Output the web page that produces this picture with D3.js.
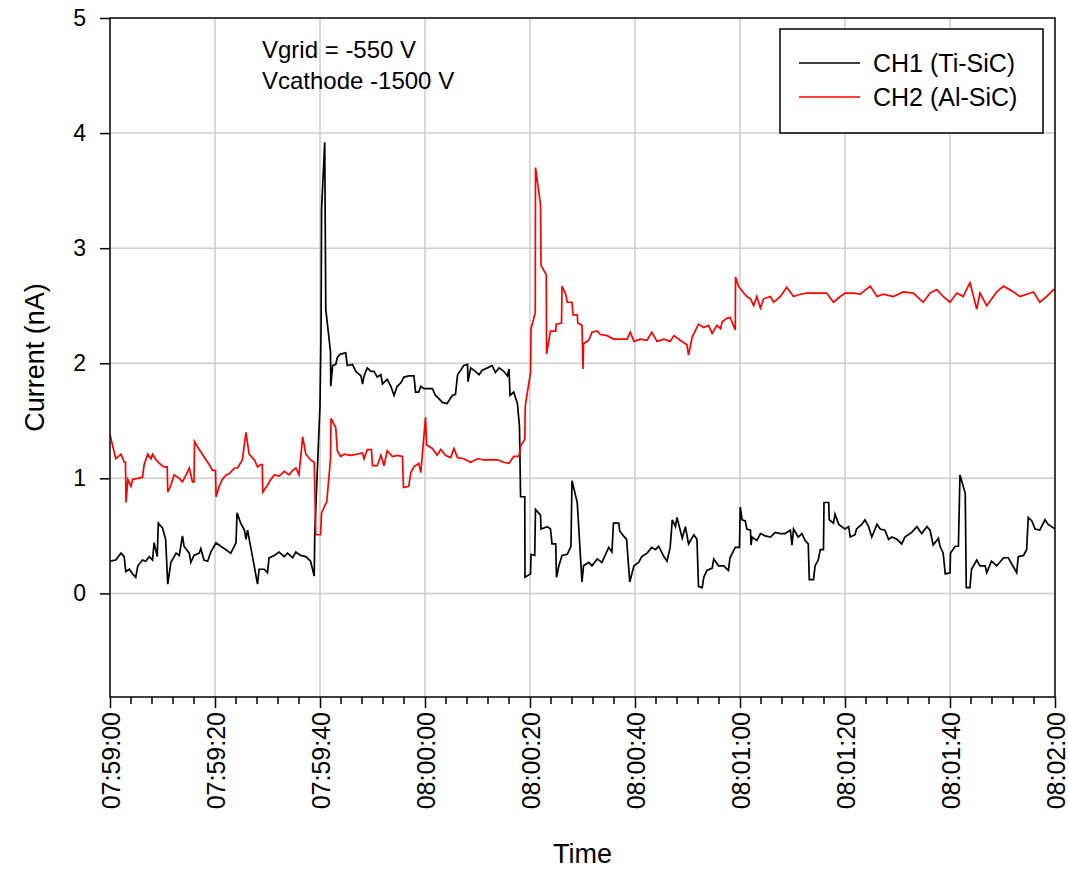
<!DOCTYPE html>
<html>
<head>
<meta charset="utf-8">
<script src="https://cdn.jsdelivr.net/npm/d3@7"></script>
<style>
  body { margin: 0; background: #fff; }
  svg text { font-family: "Liberation Sans", Arial, sans-serif; fill: #000; }
</style>
</head>
<body>
<div id="chart"></div>
<script>
// seconds after 07:59:00, current in nA
const ch1Points = [[0,0.28],[1.1,0.29],[2.1,0.35],[2.7,0.32],[3.0,0.19],[3.7,0.21],[4.3,0.17],[4.9,0.14],[5.3,0.24],[6.2,0.29],[6.8,0.28],[7.5,0.32],[8.1,0.29],[8.4,0.44],[9.0,0.32],[9.2,0.61],[10.0,0.57],[10.6,0.47],[11.0,0.08],[11.6,0.27],[12.6,0.35],[13.2,0.33],[13.8,0.5],[14.1,0.41],[15.1,0.35],[15.4,0.27],[16.0,0.33],[17.0,0.35],[17.3,0.39],[17.9,0.29],[18.6,0.28],[19.2,0.36],[20.2,0.44],[21.1,0.41],[22.1,0.38],[23.0,0.35],[24.0,0.44],[24.2,0.70],[24.9,0.61],[25.6,0.55],[25.9,0.47],[26.2,0.55],[27.5,0.23],[28.1,0.08],[28.4,0.21],[29.4,0.21],[30.0,0.18],[30.3,0.31],[31.3,0.33],[32.2,0.36],[33.2,0.32],[33.8,0.35],[34.8,0.31],[35.4,0.36],[36.3,0.33],[37.3,0.32],[38.2,0.28],[38.9,0.15],[39.0,0.51],[39.5,1.08],[40.0,1.63],[40.2,2.3],[40.3,3.34],[40.9,3.92],[41.1,2.47],[42.0,2.10],[42.05,1.8],[42.4,1.98],[43.0,1.99],[43.3,2.05],[43.9,2.08],[44.9,2.09],[45.2,1.98],[46.2,1.99],[46.8,1.93],[47.8,1.89],[48.1,1.82],[48.4,1.89],[49.0,1.96],[49.7,1.93],[50.3,1.93],[50.9,1.88],[51.6,1.9],[51.9,1.82],[52.8,1.86],[53.5,1.8],[54.1,1.72],[54.7,1.8],[55.4,1.83],[56.0,1.88],[56.9,1.89],[57.9,1.89],[58.2,1.75],[58.8,1.75],[59.2,1.8],[59.8,1.78],[61.4,1.78],[62.0,1.72],[62.7,1.69],[63.3,1.66],[64.2,1.65],[65.2,1.72],[65.8,1.73],[66.2,1.9],[67.4,1.98],[68.1,1.99],[68.2,1.84],[68.7,1.96],[69.6,1.93],[70.3,1.9],[70.9,1.94],[71.9,1.96],[72.8,1.98],[73.4,1.92],[74.1,1.96],[75.0,1.93],[75.7,1.89],[76.0,1.95],[76.2,1.72],[76.9,1.75],[77.6,1.65],[78.0,1.45],[78.2,0.84],[79.0,0.84],[79.05,0.14],[80.1,0.17],[80.2,0.34],[80.9,0.33],[81.05,0.73],[82.0,0.68],[82.1,0.56],[83.3,0.58],[83.9,0.56],[84.2,0.43],[84.9,0.43],[85.05,0.14],[85.5,0.24],[86.1,0.33],[87.1,0.34],[87.8,0.41],[88.0,0.98],[89.0,0.79],[89.9,0.10],[90.2,0.24],[91.2,0.27],[91.8,0.24],[92.8,0.3],[93.7,0.27],[95.0,0.4],[95.6,0.36],[95.9,0.61],[96.9,0.61],[97.1,0.54],[97.8,0.5],[98.4,0.47],[99.0,0.10],[99.8,0.24],[100.7,0.27],[101.3,0.32],[102.3,0.35],[103.2,0.4],[103.9,0.38],[104.5,0.41],[105.5,0.32],[106.1,0.28],[106.7,0.4],[107.1,0.64],[107.7,0.58],[108.0,0.66],[109.0,0.48],[109.6,0.58],[110.2,0.43],[111.2,0.51],[111.8,0.47],[112.1,0.06],[112.8,0.05],[113.1,0.14],[113.7,0.2],[114.7,0.22],[115.0,0.3],[115.9,0.24],[116.9,0.24],[117.8,0.2],[118.1,0.31],[119.1,0.4],[119.9,0.4],[120.05,0.75],[120.4,0.64],[121.0,0.63],[121.3,0.56],[122.0,0.55],[122.1,0.42],[122.3,0.49],[123.2,0.46],[123.9,0.52],[124.8,0.5],[125.8,0.49],[126.7,0.53],[127.7,0.52],[128.6,0.52],[129.6,0.55],[129.9,0.42],[130.2,0.56],[131.1,0.49],[131.8,0.52],[132.4,0.46],[133.0,0.43],[133.2,0.12],[134.0,0.12],[134.3,0.24],[134.9,0.29],[135.3,0.38],[135.9,0.38],[136.0,0.79],[136.9,0.79],[137.0,0.64],[137.8,0.61],[138.1,0.69],[138.8,0.6],[140.0,0.56],[140.7,0.58],[141.0,0.49],[141.9,0.51],[142.2,0.56],[143.2,0.6],[143.8,0.64],[144.5,0.58],[145.1,0.49],[146.1,0.6],[146.7,0.56],[147.6,0.55],[148.3,0.47],[148.9,0.49],[149.9,0.47],[150.8,0.43],[151.4,0.49],[152.7,0.53],[153.7,0.58],[154.6,0.52],[155.6,0.58],[156.2,0.55],[156.8,0.42],[157.8,0.48],[158.1,0.41],[158.7,0.35],[159.1,0.17],[160.0,0.18],[160.1,0.35],[161.0,0.41],[161.6,0.41],[161.9,1.03],[162.9,0.87],[163.1,0.05],[163.8,0.05],[164.1,0.21],[165.1,0.29],[165.7,0.24],[166.7,0.24],[167.0,0.18],[167.9,0.28],[168.9,0.24],[170.2,0.31],[171.1,0.31],[172.1,0.23],[172.7,0.18],[173.0,0.32],[174.0,0.33],[174.6,0.38],[174.9,0.66],[175.6,0.63],[176.2,0.56],[177.1,0.55],[178.1,0.64],[178.7,0.6],[179.7,0.57],[180,0.56]];

const ch2Points = [[0,1.38],[1.1,1.17],[2.1,1.21],[2.7,1.14],[2.95,1.14],[3.05,0.79],[3.4,0.99],[4.0,0.93],[4.3,0.99],[5.3,1.0],[6.2,1.01],[6.5,1.12],[7.2,1.21],[7.8,1.17],[8.1,1.21],[8.8,1.16],[9.4,1.13],[10.3,1.1],[10.9,1.1],[11.0,0.88],[11.6,0.94],[12.2,1.03],[13.2,1.0],[13.8,0.97],[14.5,1.03],[15.1,1.09],[15.7,0.97],[16.0,0.97],[16.1,1.32],[17.0,1.25],[17.6,1.21],[18.3,1.16],[18.9,1.12],[19.5,1.07],[20.1,1.07],[20.2,0.84],[20.8,0.93],[21.4,0.99],[22.1,1.03],[22.7,1.04],[23.7,1.09],[24.3,1.09],[25.2,1.16],[25.9,1.40],[26.5,1.21],[27.5,1.16],[28.1,1.1],[28.7,1.12],[29.0,1.12],[29.1,0.88],[30.0,0.94],[30.6,0.99],[31.3,1.03],[32.2,1.02],[33.2,1.06],[34.1,1.03],[34.8,1.07],[35.4,1.09],[36.0,1.03],[36.7,1.36],[37.3,1.21],[38.2,1.16],[38.9,1.14],[39.2,0.51],[40.1,0.51],[40.3,0.70],[41.3,0.80],[42.0,1.17],[42.1,1.52],[43.0,1.44],[43.3,1.24],[43.9,1.19],[44.6,1.21],[45.9,1.2],[47.1,1.21],[48.1,1.22],[48.4,1.17],[49.0,1.25],[49.8,1.25],[50.0,1.11],[50.9,1.11],[51.6,1.2],[52.2,1.11],[52.8,1.24],[53.8,1.19],[54.7,1.2],[55.7,1.19],[55.9,0.92],[56.9,0.93],[57.3,1.05],[57.9,1.1],[58.8,1.13],[59.2,1.05],[60.1,1.53],[60.3,1.29],[61.4,1.26],[62.3,1.2],[63.0,1.25],[63.9,1.2],[64.9,1.18],[65.5,1.26],[66.2,1.18],[67.4,1.17],[68.7,1.14],[70.0,1.17],[71.2,1.16],[72.5,1.16],[73.8,1.16],[75.0,1.14],[76.0,1.13],[76.9,1.19],[77.9,1.19],[78.2,1.28],[79.0,1.34],[79.1,1.63],[80.1,1.92],[80.2,2.30],[81.0,2.44],[81.05,3.70],[82.0,3.38],[82.1,2.85],[83.1,2.77],[83.15,2.08],[83.9,2.28],[84.9,2.28],[85.0,2.34],[86.0,2.35],[86.1,2.67],[86.8,2.6],[87.1,2.53],[88.0,2.53],[88.2,2.42],[89.0,2.42],[89.1,2.35],[89.9,2.33],[90.1,1.95],[90.2,2.17],[91.2,2.2],[91.8,2.27],[92.8,2.28],[93.4,2.25],[94.7,2.24],[95.9,2.21],[97.2,2.21],[98.5,2.21],[99.1,2.27],[99.8,2.19],[101.0,2.21],[102.3,2.2],[103.2,2.27],[104.2,2.19],[105.5,2.21],[106.7,2.19],[107.4,2.24],[108.6,2.2],[109.9,2.16],[110.2,2.07],[110.9,2.23],[112.1,2.34],[113.1,2.31],[114.0,2.33],[114.7,2.26],[115.6,2.33],[116.3,2.3],[116.6,2.36],[117.5,2.39],[118.1,2.4],[119.1,2.29],[119.15,2.75],[119.7,2.67],[120.7,2.61],[121.3,2.58],[122.0,2.56],[122.6,2.5],[123.2,2.58],[123.9,2.48],[124.5,2.56],[125.8,2.58],[126.4,2.53],[127.7,2.58],[128.9,2.66],[130.2,2.58],[131.5,2.6],[132.7,2.61],[134.6,2.61],[136.5,2.61],[137.8,2.53],[139.1,2.58],[140.0,2.61],[141.6,2.61],[142.9,2.6],[144.8,2.67],[146.1,2.58],[147.3,2.6],[149.2,2.58],[151.1,2.62],[153.0,2.61],[154.9,2.53],[156.2,2.61],[157.5,2.64],[158.7,2.58],[160.0,2.53],[161.3,2.61],[162.5,2.58],[163.8,2.7],[165.1,2.47],[165.7,2.61],[167.0,2.5],[168.9,2.62],[170.2,2.67],[172.1,2.62],[173.3,2.58],[175.9,2.62],[177.1,2.53],[178.4,2.58],[179.7,2.64],[180,2.63]];

const seriesNames = ["CH1 (Ti-SiC)", "CH2 (Al-SiC)"];
const seriesColors = ["#000000", "#ff0000"];
const yTicks = [0, 1, 2, 3, 4, 5];
const notes = ["Vgrid = -550 V", "Vcathode -1500 V"];

const width = 1068, height = 870;
const margin = {top: 18, right: 13, bottom: 173, left: 110};
const t0 = new Date(2000, 0, 1, 7, 59, 0);
const toDate = s => new Date(t0.getTime() + s * 1000);

const svg = d3.select("#chart").append("svg")
  .attr("width", width)
  .attr("height", height);

const x = d3.scaleTime()
  .domain([t0, toDate(180)])
  .range([margin.left, width - margin.right]);

const y = d3.scaleLinear()
  .domain([-0.9, 5])
  .range([height - margin.bottom, margin.top]);

const plotW = width - margin.left - margin.right;
const plotH = height - margin.top - margin.bottom;

svg.append("clipPath").attr("id", "plot-clip")
  .append("rect")
  .attr("x", margin.left).attr("y", margin.top)
  .attr("width", plotW).attr("height", plotH);

// grid
const majorTicks = x.ticks(d3.timeSecond.every(20));
svg.append("g")
  .selectAll("line")
  .data(majorTicks.slice(1, -1))
  .join("line")
  .attr("x1", d => x(d)).attr("x2", d => x(d))
  .attr("y1", margin.top).attr("y2", height - margin.bottom)
  .attr("stroke", "#cccccc").attr("stroke-width", 1.5);

svg.append("g")
  .selectAll("line")
  .data(yTicks.slice(0, -1))
  .join("line")
  .attr("x1", margin.left).attr("x2", width - margin.right)
  .attr("y1", d => y(d)).attr("y2", d => y(d))
  .attr("stroke", "#cccccc").attr("stroke-width", 1.5);

// data lines
const line = d3.line()
  .x(d => x(toDate(d[0])))
  .y(d => y(d[1]));

[ch1Points, ch2Points].forEach((pts, i) => {
  svg.append("path")
    .datum(pts)
    .attr("clip-path", "url(#plot-clip)")
    .attr("fill", "none")
    .attr("stroke", seriesColors[i])
    .attr("stroke-width", 1.7)
    .attr("d", line);
});

// frame
svg.append("rect")
  .attr("x", margin.left).attr("y", margin.top)
  .attr("width", plotW).attr("height", plotH)
  .attr("fill", "none").attr("stroke", "#000").attr("stroke-width", 1.5);

// x axis
const xAxis = svg.append("g")
  .attr("transform", `translate(0,${height - margin.bottom})`)
  .call(d3.axisBottom(x)
    .ticks(d3.timeSecond.every(20))
    .tickFormat(d3.timeFormat("%H:%M:%S"))
    .tickSize(11)
    .tickSizeOuter(0));
xAxis.select(".domain").remove();
xAxis.selectAll(".tick line").attr("stroke-width", 1.5);
xAxis.selectAll(".tick text")
  .attr("font-size", 25)
  .attr("text-anchor", "end")
  .attr("x", -15)
  .attr("y", 0)
  .attr("dy", "0.36em")
  .attr("transform", "rotate(-90)");

svg.append("g")
  .attr("transform", `translate(0,${height - margin.bottom})`)
  .selectAll("line")
  .data(x.ticks(d3.timeSecond.every(4)).filter(d => d.getSeconds() % 20 !== 0))
  .join("line")
  .attr("x1", d => x(d)).attr("x2", d => x(d))
  .attr("y1", 0).attr("y2", 7)
  .attr("stroke", "#000").attr("stroke-width", 1.5);

// y axis
const yAxis = svg.append("g")
  .attr("transform", `translate(${margin.left},0)`)
  .call(d3.axisLeft(y)
    .tickValues(yTicks)
    .tickFormat(d3.format("d"))
    .tickSize(10)
    .tickSizeOuter(0)
    .tickPadding(14));
yAxis.select(".domain").remove();
yAxis.selectAll(".tick line").attr("stroke-width", 1.5);
yAxis.selectAll(".tick text").attr("font-size", 23);

// axis titles
svg.append("text")
  .attr("x", x(toDate(90)))
  .attr("y", 863)
  .attr("text-anchor", "middle")
  .attr("font-size", 27)
  .text("Time");

svg.append("text")
  .attr("transform", `translate(44,${y(2.05)}) rotate(-90)`)
  .attr("text-anchor", "middle")
  .attr("font-size", 27)
  .text("Current (nA)");

// annotation
notes.forEach((t, i) => {
  svg.append("text")
    .attr("x", 262)
    .attr("y", 58 + i * 31)
    .attr("font-size", 24)
    .text(t);
});

// legend
const legend = svg.append("g");
legend.append("rect")
  .attr("x", 780).attr("y", 29)
  .attr("width", 263).attr("height", 104)
  .attr("fill", "#fff").attr("stroke", "#000").attr("stroke-width", 1.5);
seriesNames.forEach((name, i) => {
  const ly = 63 + i * 34;
  legend.append("line")
    .attr("x1", 799).attr("x2", 860)
    .attr("y1", ly).attr("y2", ly)
    .attr("stroke", seriesColors[i]).attr("stroke-width", 1.6);
  legend.append("text")
    .attr("x", 873).attr("y", ly + 9)
    .attr("font-size", 25)
    .text(name);
});
</script>
</body>
</html>
